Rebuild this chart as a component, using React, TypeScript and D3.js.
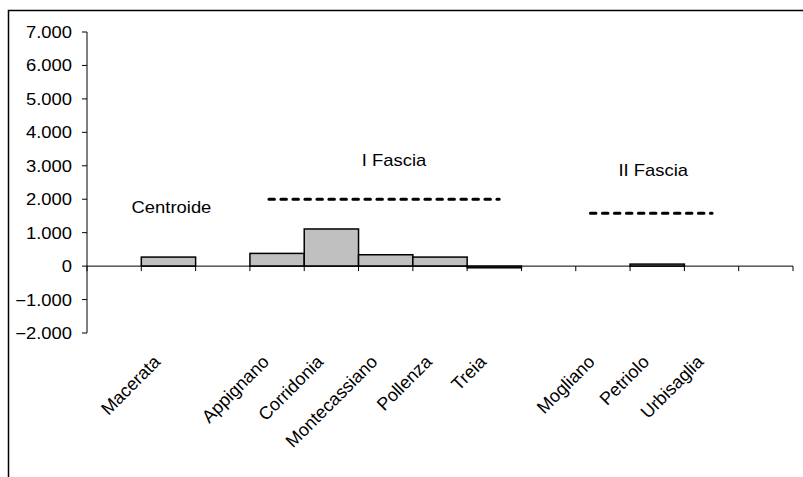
import React from 'react';
import * as d3 from 'd3';

// categories ("" = empty slot between groups)
const categories = ['', 'Macerata', '', 'Appignano', 'Corridonia', 'Montecassiano', 'Pollenza', 'Treia', '', 'Mogliano', 'Petriolo', 'Urbisaglia', ''];
const values = [null, 270, null, 380, 1110, 340, 270, -50, null, 0, 60, 0, null];
const yTicks = [-2000, -1000, 0, 1000, 2000, 3000, 4000, 5000, 6000, 7000];

// dashed reference levels per group
const fasciaNames = ['I Fascia', 'II Fascia'];
const fasciaValues = [2000, 1580];
const fasciaFrom = ['Appignano', 'Mogliano'];
const fasciaTo = ['Treia', 'Urbisaglia'];
const centroide = 'Centroide';

const W = 803;
const H = 477;
const FONT = '"Liberation Sans", Arial, sans-serif';

const fmt = (v: number) => (v === 0 ? '0' : d3.format(',.3f')(v / 1000).replace(/,/g, ''));

export default function App() {
  const margin = { left: 87, right: 10, top: 32, bottom: 144 };
  const x = d3
    .scaleBand<number>()
    .domain(d3.range(categories.length))
    .range([margin.left, W - margin.right])
    .padding(0);
  const y = d3.scaleLinear().domain([-2000, 7000]).range([H - margin.bottom, margin.top]);
  const bw = x.bandwidth();
  const idx = (name: string) => categories.indexOf(name);
  const y0 = y(0);
  const xEnd = (x(categories.length - 1) as number) + bw;

  return (
    <svg width={W} height={H} style={{ position: 'absolute', left: 0, top: 0, background: '#fff' }} fontFamily={FONT}>
      <rect x={8.5} y={10.5} width={W + 20} height={H + 20} fill="#fff" stroke="#000" strokeWidth={1.5} />

      {/* y axis */}
      <line x1={margin.left} x2={margin.left} y1={y(7000)} y2={y(-2000)} stroke="#000" />
      {yTicks.map((t) => (
        <g key={t}>
          <line x1={margin.left - 5} x2={margin.left} y1={y(t)} y2={y(t)} stroke="#000" />
          <text
            transform={`translate(${margin.left - 15},${y(t) + 6}) scale(1.15,1)`}
            textAnchor="end"
            fontSize={16}
          >
            {fmt(t)}
          </text>
        </g>
      ))}

      {/* bars */}
      {values.map((v, i) =>
        v === null || v === 0 ? null : (
          <rect
            key={i}
            x={x(i)}
            y={Math.min(y(v), y0)}
            width={bw}
            height={Math.abs(y(v) - y0)}
            fill="#c0c0c0"
            stroke="#000"
            strokeWidth={1.5}
          />
        )
      )}

      {/* x axis */}
      <line x1={margin.left} x2={xEnd} y1={y0} y2={y0} stroke="#000" />
      {d3.range(categories.length + 1).map((i) => {
        const xx = i < categories.length ? (x(i) as number) : xEnd;
        return <line key={i} x1={xx} x2={xx} y1={y0} y2={y0 + 5} stroke="#000" />;
      })}

      {/* category labels */}
      {categories.map((c, i) =>
        c ? (
          <text
            key={i}
            transform={`translate(${(x(i) as number) + bw / 2 - 7},${y(-2000) + 30}) rotate(-45)`}
            textAnchor="end"
            fontSize={18}
          >
            {c}
          </text>
        ) : null
      )}

      {/* fascia dashed levels */}
      {fasciaNames.map((n, k) => {
        const a = (x(idx(fasciaFrom[k])) as number) + bw * (k === 0 ? 0.35 : 0.27);
        const b = (x(idx(fasciaTo[k])) as number) + bw * (k === 0 ? 0.59 : 0.51);
        const ly = y(fasciaValues[k]);
        return (
          <g key={n}>
            <line x1={a} x2={b} y1={ly} y2={ly} stroke="#000" strokeWidth={3} strokeDasharray="5.5,6.5" strokeLinecap="round" />
            <text
              transform={`translate(${(a + b) / 2 + (k === 0 ? 10 : 2)},${y(k === 0 ? 3000 : 2700)}) scale(1.15,1)`}
              textAnchor="middle"
              fontSize={16}
            >
              {n}
            </text>
          </g>
        );
      })}
      <text
        transform={`translate(${(x(idx('Macerata')) as number) + bw / 2 + 3},${y(1600)}) scale(1.15,1)`}
        textAnchor="middle"
        fontSize={16}
      >
        {centroide}
      </text>
    </svg>
  );
}
